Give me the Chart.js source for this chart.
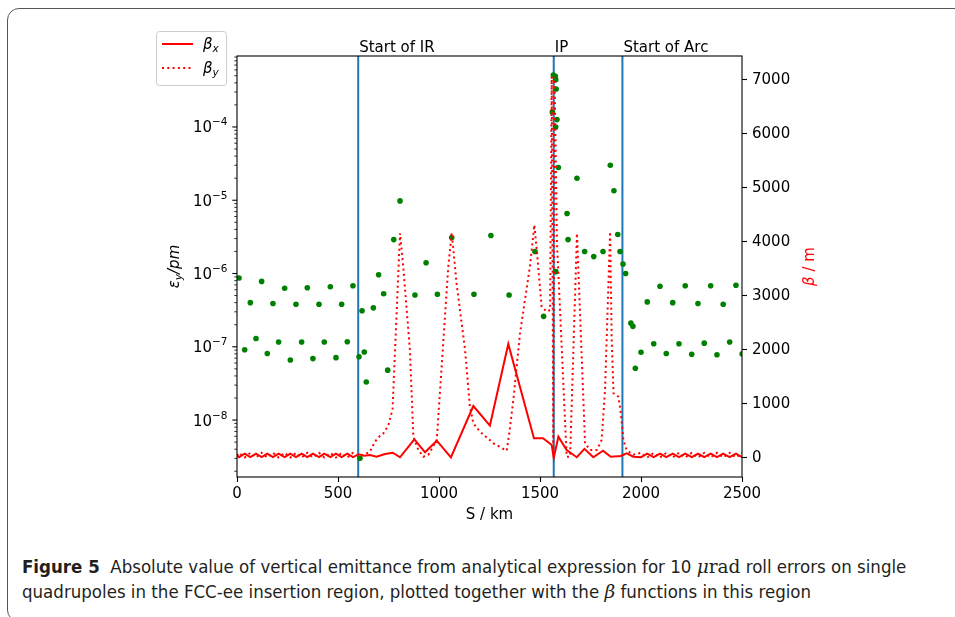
<!DOCTYPE html>
<html>
<head>
<meta charset="utf-8">
<script src="https://cdn.jsdelivr.net/npm/chart.js@4.4.1/dist/chart.umd.min.js"></script>
<style>
  html, body { margin: 0; padding: 0; background: #fff; }
  #page { width: 955px; height: 617px; position: relative; overflow: hidden; }
  #frame { position: absolute; left: 7px; top: 8px; width: 1000px; height: 612px;
           border: 1px solid #555; border-radius: 12px; }
  #chart { position: absolute; left: 0; top: 0; }
  #caption { position: absolute; left: 22px; top: 554px; color: #231f20; white-space: nowrap;
             font-family: "Liberation Sans Narrow", "DejaVu Sans Condensed", sans-serif;
             font-size: 18.5px; line-height: 25px; }
  .m { font-family: "DejaVu Serif", "Liberation Serif", serif; }
</style>
</head>
<body>
<div id="page">
<div id="frame"></div>
<canvas id="chart" width="955" height="530"></canvas>
<div id="caption"><b>Figure 5</b>&nbsp; Absolute value of vertical emittance from analytical expression for 10 <span class="m"><i>μ</i>rad</span> roll errors on single<br>quadrupoles in the FCC-ee insertion region, plotted together with the <span class="m"><i>β</i></span> functions in this region</div>
</div>

<script>
// ---------------- data ----------------
const xTicks = [0, 500, 1000, 1500, 2000, 2500];
const betaTicks = [0, 1000, 2000, 3000, 4000, 5000, 6000, 7000];
const epsDecades = [-8, -7, -6, -5, -4];

const markerS = [600, 1568, 1908];
const markerLabels = ["Start of IR", "IP", "Start of Arc"];

// emittance per quadrupole (green dots)
const epsS = [
  10, 38, 66, 94, 122, 150, 178, 206, 236, 264, 292, 320, 348, 376, 406, 432, 462, 490, 518, 546, 574,
  604, 609, 619, 630, 640, 675, 701, 726, 746, 776, 807, 881, 936, 992, 1063, 1173, 1257, 1347,
  1475, 1518, 1578, 1561, 1566, 1576, 1578, 1580, 1584, 1578, 1591, 1634, 1639, 1683, 1721, 1766,
  1812, 1848, 1866, 1885, 1896, 1911, 1924, 1950, 1960, 1972,
  2000, 2031, 2063, 2094, 2125, 2157, 2188, 2219, 2251, 2282, 2313, 2345, 2376, 2407, 2439, 2470, 2501
];
const epsVal = [
  8.7e-7, 9.1e-8, 4.0e-7, 1.3e-7, 7.8e-7, 8.1e-8, 3.9e-7, 1.16e-7, 6.3e-7, 6.6e-8, 3.8e-7, 1.16e-7,
  6.4e-7, 6.9e-8, 3.8e-7, 1.16e-7, 6.6e-7, 7.1e-8, 3.8e-7, 1.17e-7, 6.8e-7,
  7.3e-8, 3.0e-9, 3.1e-7, 8.5e-8, 3.3e-8, 3.4e-7, 9.6e-7, 5.3e-7, 4.8e-8, 2.9e-6, 9.8e-6, 5.1e-7,
  1.4e-6, 5.2e-7, 3.1e-6, 5.2e-7, 3.3e-6, 5.1e-7,
  2.0e-6, 2.6e-7, 1.06e-6, 1.6e-4, 5.1e-4, 4.9e-4, 4.4e-4, 3.3e-4, 1.26e-4, 1.0e-4, 2.8e-5, 6.6e-6,
  2.9e-6, 2.0e-5, 2.0e-6, 1.7e-6,
  2.0e-6, 3.0e-5, 1.35e-5, 3.4e-6, 2.0e-6, 1.35e-6, 1.0e-6, 2.1e-7, 1.9e-7, 5.1e-8,
  8.4e-8, 4.1e-7, 1.1e-7, 6.7e-7, 8.1e-8, 4.0e-7, 1.1e-7, 6.8e-7, 7.9e-8, 3.9e-7, 1.12e-7, 6.8e-7,
  7.8e-8, 3.8e-7, 1.16e-7, 6.9e-7, 8.0e-8
];

// beta_x (solid)
const betaXS = [
  0, 10, 38, 66, 94, 122, 150, 178, 206, 236, 264, 292, 320, 348, 376, 406, 432, 462, 490, 518, 546, 574,
  604, 630, 658, 691, 733, 771, 807, 878, 931, 989, 1059, 1170, 1252, 1343, 1470, 1515, 1558, 1568,
  1591, 1632, 1682, 1720, 1764, 1812, 1850, 1900, 1929, 1962,
  2000, 2031, 2063, 2094, 2125, 2157, 2188, 2219, 2251, 2282, 2313, 2345, 2376, 2407, 2439, 2470, 2500
];
const betaXVal = [
  50, 15, 80, 15, 80, 15, 80, 15, 80, 15, 80, 15, 80, 15, 80, 15, 80, 15, 80, 15, 80, 15,
  70, 40, 56, 24, 74, 98, 13, 346, 105, 320, 13, 963, 600, 2111, 365, 365, 240, 0,
  394, 148, 13, 170, 13, 135, 24, 37, 87, 24,
  15, 80, 15, 80, 15, 80, 15, 80, 15, 80, 15, 80, 15, 80, 15, 80, 15
];

// beta_y (dotted)
const betaYS = [
  0, 10, 38, 66, 94, 122, 150, 178, 206, 236, 264, 292, 320, 348, 376, 406, 432, 462, 490, 518, 546, 574,
  604, 630, 658, 683, 700, 725, 749, 770, 807, 823, 856, 873, 898, 922, 947, 989, 1013, 1046, 1063,
  1087, 1129, 1153, 1170, 1203, 1270, 1335, 1348, 1368, 1401, 1450, 1472, 1484, 1508, 1533, 1550,
  1558, 1566, 1572, 1584, 1632, 1649, 1683, 1723, 1748, 1781, 1805, 1822, 1847, 1855, 1864, 1888,
  1900, 1913, 1929, 1946, 1962,
  2000, 2031, 2063, 2094, 2125, 2157, 2188, 2219, 2251, 2282, 2313, 2345, 2376, 2407, 2439, 2470, 2500
];
const betaYVal = [
  40, 95, 10, 95, 10, 95, 10, 95, 10, 95, 10, 95, 10, 95, 10, 95, 10, 95, 10, 95, 10, 95,
  40, 60, 117, 302, 383, 457, 600, 900, 4161, 3543, 2000, 394, 148, 24, 56, 333, 1691, 3543, 4172,
  3235, 2000, 950, 642, 487, 272, 135, 457, 1074, 2309, 3543, 4315, 3852, 2802, 2710, 2741,
  7060, 150, 7060, 4000, 24, 24, 4160, 272, 148, 148, 333, 1259, 4190, 2185, 1198, 1136,
  827, 333, 148, 98, 60,
  95, 10, 95, 10, 95, 10, 95, 10, 95, 10, 95, 10, 95, 10, 95, 10, 95
];

const epsMin = 1.67e-9, epsMax = 9.3e-4;
const betaMin = -352, betaMax = 7444;

// ---------------- helpers ----------------
const FS = 15;
const FONT = '"DejaVu Sans"';
const pts = (xs, ys) => xs.map((v, i) => ({ x: v, y: ys[i] }));

function subText(ctx, base, sub, rest, x, y, align) {
  const big = "italic " + FS + "px " + FONT;
  const small = "italic " + (FS * 0.7) + "px " + FONT;
  ctx.font = big; const w1 = ctx.measureText(base).width;
  ctx.font = small; const w2 = ctx.measureText(sub).width;
  ctx.font = big; const w3 = rest ? ctx.measureText(rest).width : 0;
  const x0 = align === "center" ? x - (w1 + w2 + w3) / 2 : x;
  ctx.textAlign = "left"; ctx.textBaseline = "alphabetic";
  ctx.font = big; ctx.fillText(base, x0, y);
  ctx.font = small; ctx.fillText(sub, x0 + w1, y + FS * 0.22);
  if (rest) { ctx.font = big; ctx.fillText(rest, x0 + w1 + w2, y); }
}

// frame, log axis, labels, legend
const decor = {
  id: "decor",
  afterDraw(chart) {
    const { ctx, chartArea: a, scales } = chart;
    const x = scales.x, y = scales.y;
    ctx.save();
    ctx.strokeStyle = "#000";
    ctx.fillStyle = "#000";

    // left log ticks
    for (let e = -9; e <= -3; e++) {
      for (let m = 1; m <= 9; m++) {
        const v = m * Math.pow(10, e);
        if (v < y.min || v > y.max) continue;
        const py = y.getPixelForValue(v);
        ctx.lineWidth = m === 1 ? 1.1 : 0.8;
        ctx.beginPath();
        ctx.moveTo(a.left, py);
        ctx.lineTo(a.left - (m === 1 ? 4.7 : 2.7), py);
        ctx.stroke();
      }
    }
    // decade labels 10^-n
    epsDecades.forEach(e => {
      const py = y.getPixelForValue(Math.pow(10, e));
      const xr = a.left - 9.5;
      ctx.textAlign = "right"; ctx.textBaseline = "alphabetic";
      ctx.font = (FS * 0.7) + "px " + FONT;
      const exp = "\u2212" + Math.abs(e);
      const we = ctx.measureText(exp).width;
      ctx.fillText(exp, xr, py - 1.5);
      ctx.font = FS + "px " + FONT;
      ctx.fillText("10", xr - we, py + 5.5);
    });

    // frame
    ctx.lineWidth = 1.1;
    ctx.strokeRect(a.left, a.top, a.right - a.left, a.bottom - a.top);

    // marker labels above plot
    ctx.font = FS + "px " + FONT;
    ctx.textAlign = "left"; ctx.textBaseline = "alphabetic";
    markerS.forEach((s, i) => ctx.fillText(markerLabels[i], x.getPixelForValue(s) + 1, a.top - 4.5));

    // x title
    ctx.textAlign = "center";
    ctx.fillText("S / km", (a.left + a.right) / 2, 519);

    // left title
    const mid = (a.top + a.bottom) / 2;
    ctx.save();
    ctx.translate(179, mid);
    ctx.rotate(-Math.PI / 2);
    subText(ctx, "\u03b5", "y", "/pm", 0, 0, "center");
    ctx.restore();

    // right title
    ctx.save();
    ctx.translate(814, mid);
    ctx.rotate(-Math.PI / 2);
    ctx.fillStyle = "#ff0000";
    ctx.font = "italic " + FS + "px " + FONT;
    const wb = ctx.measureText("\u03b2").width;
    ctx.font = FS + "px " + FONT;
    const wr = ctx.measureText(" / m").width;
    ctx.textAlign = "left";
    ctx.font = "italic " + FS + "px " + FONT;
    ctx.fillText("\u03b2", -(wb + wr) / 2, 0);
    ctx.font = FS + "px " + FONT;
    ctx.fillText(" / m", -(wb + wr) / 2 + wb, 0);
    ctx.restore();

    // legend
    ctx.beginPath();
    ctx.roundRect(156.5, 31.5, 70, 54, 3);
    ctx.fillStyle = "rgba(255,255,255,0.8)";
    ctx.fill();
    ctx.strokeStyle = "#cccccc";
    ctx.lineWidth = 1;
    ctx.stroke();
    ctx.strokeStyle = "#ff0000";
    ctx.lineWidth = 2;
    ctx.beginPath(); ctx.moveTo(162, 44); ctx.lineTo(193, 44); ctx.stroke();
    ctx.setLineDash([2, 3.3]);
    ctx.beginPath(); ctx.moveTo(162, 68); ctx.lineTo(193, 68); ctx.stroke();
    ctx.setLineDash([]);
    ctx.fillStyle = "#000";
    subText(ctx, "\u03b2", "x", "", 203, 49, "left");
    subText(ctx, "\u03b2", "y", "", 203, 73, "left");

    ctx.restore();
  }
};

// ---------------- chart ----------------
Chart.defaults.font.family = FONT;
Chart.defaults.font.size = FS;
Chart.defaults.color = "#000";

const vlines = markerS.map(s => ({
  data: [{ x: s, y: epsMin }, { x: s, y: epsMax }],
  yAxisID: "y",
  showLine: true,
  borderColor: "#1f77b4",
  borderWidth: 2,
  pointRadius: 0,
  order: 3
}));

new Chart(document.getElementById("chart"), {
  type: "scatter",
  data: {
    datasets: [
      {
        label: "beta_x",
        data: pts(betaXS, betaXVal),
        yAxisID: "y2",
        showLine: true,
        borderColor: "#ff0000",
        borderWidth: 2,
        pointRadius: 0,
        order: 0
      },
      {
        label: "beta_y",
        data: pts(betaYS, betaYVal),
        yAxisID: "y2",
        showLine: true,
        borderColor: "#ff0000",
        borderWidth: 2,
        borderDash: [2, 3.3],
        pointRadius: 0,
        order: 1
      },
      {
        label: "eps",
        data: pts(epsS, epsVal),
        yAxisID: "y",
        backgroundColor: "#008000",
        borderWidth: 0,
        pointRadius: 2.8,
        order: 2
      },
      ...vlines
    ]
  },
  options: {
    responsive: false,
    animation: false,
    devicePixelRatio: 1,
    layout: { padding: { top: 56, left: 0, right: 0, bottom: 0 } },
    plugins: { legend: { display: false }, tooltip: { enabled: false } },
    scales: {
      x: {
        type: "linear",
        position: "bottom",
        min: 0,
        max: 2500,
        afterBuildTicks: s => { s.ticks = xTicks.map(v => ({ value: v })); },
        afterFit: s => { s.height = 53; },
        ticks: { maxRotation: 0, padding: 3, callback: v => String(v) },
        grid: { drawOnChartArea: false, color: "#000", tickLength: 5, tickWidth: 1.1 },
        border: { display: false }
      },
      y: {
        type: "logarithmic",
        position: "left",
        min: epsMin,
        max: epsMax,
        afterFit: s => { s.width = 237; },
        ticks: { display: false },
        grid: { display: false },
        border: { display: false }
      },
      y2: {
        type: "linear",
        position: "right",
        min: betaMin,
        max: betaMax,
        afterBuildTicks: s => { s.ticks = betaTicks.map(v => ({ value: v })); },
        afterFit: s => { s.width = 213; },
        ticks: { padding: 5, callback: v => String(v) },
        grid: { drawOnChartArea: false, color: "#000", tickLength: 5, tickWidth: 1.1 },
        border: { display: false }
      }
    }
  },
  plugins: [decor]
});
</script>
</body>
</html>
